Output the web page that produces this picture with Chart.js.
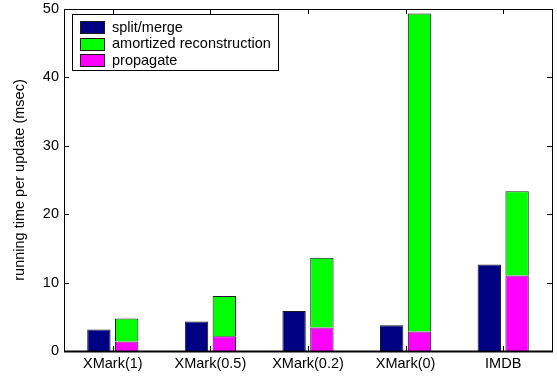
<!DOCTYPE html>
<html>
<head>
<meta charset="utf-8">
<script src="https://cdn.jsdelivr.net/npm/chart.js@4/dist/chart.umd.min.js"></script>
<style>
  html, body { margin: 0; padding: 0; background: #fff; }
  #wrap { width: 557px; height: 379px; }
</style>
</head>
<body>
<div id="wrap"><canvas id="c" width="557" height="379"></canvas></div>
<script>
// Running time per update, broken down by component (msec)
const categories = ['XMark(1)', 'XMark(0.5)', 'XMark(0.2)', 'XMark(0)', 'IMDB'];
const splitMerge = [3.15, 4.3, 5.85, 3.75, 12.65];
const amortizedReconstruction = [3.35, 5.9, 10.2, 46.5, 12.3];
const propagate = [1.4, 2.15, 3.45, 2.85, 11.05];
const yTicks = [0, 10, 20, 30, 40, 50];

const FONT = "'Liberation Sans', Arial, Helvetica, sans-serif";
const FS = 14.5;
Chart.defaults.font.family = FONT;
Chart.defaults.color = '#000';

const NAVY = '#000083';
const GREEN = '#00ff00';
const MAGENTA = '#ff00ff';
const EDGE = '#1a1a1a';

// Legend entries in display order
const legendItems = [
  { label: 'split/merge', color: NAVY },
  { label: 'amortized reconstruction', color: GREEN },
  { label: 'propagate', color: MAGENTA }
];

// Axes box with inward ticks, plus a boxed legend inside the plot area
const frame = {
  id: 'frame',
  afterDatasetsDraw(chart) {
    const { ctx, chartArea: a, scales } = chart;
    const x = scales.x, y = scales.y;
    ctx.save();
    ctx.strokeStyle = '#000';
    ctx.lineWidth = 1;
    ctx.strokeRect(Math.round(a.left) + 0.5, Math.round(a.top) + 0.5,
                   Math.round(a.right - a.left), Math.round(a.bottom - a.top));
    // heavier baseline
    ctx.beginPath();
    ctx.lineWidth = 2;
    ctx.moveTo(a.left, Math.round(a.bottom) + 0.5);
    ctx.lineTo(a.right + 1, Math.round(a.bottom) + 0.5);
    ctx.stroke();

    const tl = 5;
    ctx.lineWidth = 1;
    ctx.beginPath();
    yTicks.forEach(v => {
      const py = Math.round(y.getPixelForValue(v)) + 0.5;
      ctx.moveTo(a.left, py); ctx.lineTo(a.left + tl, py);
      ctx.moveTo(a.right, py); ctx.lineTo(a.right - tl, py);
    });
    categories.forEach((c, i) => {
      const px = Math.round(x.getPixelForValue(i)) + 0.5;
      ctx.moveTo(px, a.top); ctx.lineTo(px, a.top + tl);
      ctx.moveTo(px, a.bottom); ctx.lineTo(px, a.bottom - tl);
    });
    ctx.stroke();

    // legend
    const lx = 72.5, ly = 14.5, lw = 206, lh = 56;
    ctx.fillStyle = '#fff';
    ctx.fillRect(lx, ly, lw, lh);
    ctx.strokeStyle = '#000';
    ctx.strokeRect(lx, ly, lw, lh);
    ctx.font = FS + 'px ' + FONT;
    ctx.textBaseline = 'middle';
    ctx.textAlign = 'left';
    legendItems.forEach((it, i) => {
      const cy = 27 + i * 16.7;
      ctx.fillStyle = it.color;
      ctx.fillRect(80, Math.round(cy - 6), 24, 12);
      ctx.strokeStyle = EDGE;
      ctx.strokeRect(80.5, Math.round(cy - 6) + 0.5, 24, 12);
      ctx.fillStyle = '#000';
      ctx.fillText(it.label, 112, cy + 0.5);
    });
    ctx.restore();
  }
};

new Chart(document.getElementById('c'), {
  type: 'bar',
  data: {
    labels: categories,
    datasets: [
      { label: 'split/merge', data: splitMerge, stack: 'left',
        backgroundColor: NAVY, borderColor: EDGE, borderWidth: 1 },
      { label: 'propagate', data: propagate, stack: 'right',
        backgroundColor: MAGENTA, borderColor: EDGE, borderWidth: 1 },
      { label: 'amortized reconstruction', data: amortizedReconstruction, stack: 'right',
        backgroundColor: GREEN, borderColor: EDGE, borderWidth: 1 }
    ]
  },
  options: {
    responsive: false,
    animation: false,
    categoryPercentage: 0.57,
    barPercentage: 0.84,
    layout: { padding: { top: 9, right: 5, left: 0, bottom: 0 } },
    plugins: {
      legend: { display: false },
      tooltip: { enabled: false }
    },
    scales: {
      x: {
        stacked: true,
        grid: { display: false, drawTicks: false },
        border: { display: false },
        ticks: { font: { size: FS }, padding: 4, maxRotation: 0, color: '#000' },
        afterFit(s) { s.height = 28; s.paddingLeft = 0; s.paddingRight = 0; }
      },
      y: {
        stacked: true,
        min: 0, max: 50,
        afterBuildTicks(s) { s.ticks = yTicks.map(v => ({ value: v })); },
        grid: { display: false, drawTicks: false },
        border: { display: false },
        ticks: { font: { size: FS }, padding: 5, color: '#000' },
        title: {
          display: true,
          text: 'running time per update (msec)',
          font: { size: FS },
          color: '#000',
          padding: { top: 11, bottom: 0 }
        },
        afterFit(s) { s.width = 64; s.paddingTop = 0; s.paddingBottom = 0; }
      }
    }
  },
  plugins: [frame]
});
</script>
</body>
</html>
